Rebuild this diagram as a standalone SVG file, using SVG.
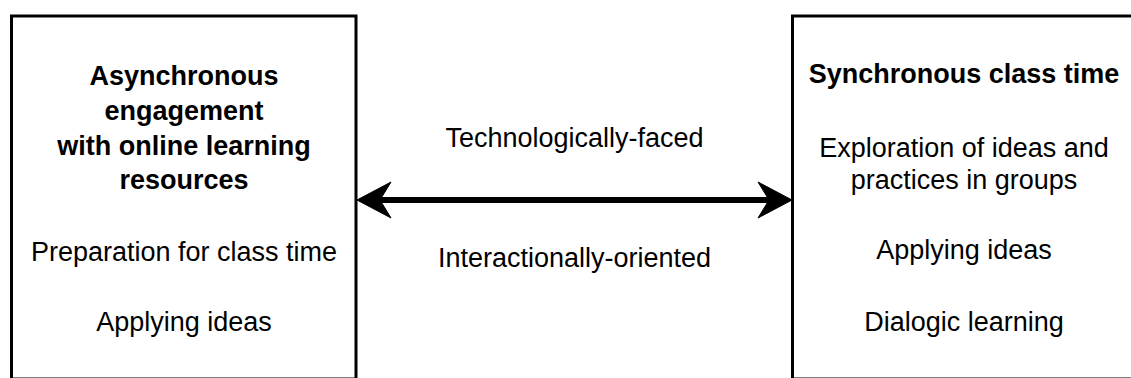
<svg xmlns="http://www.w3.org/2000/svg" width="1131" height="378" viewBox="0 0 1131 378">
  <style>
    .box { fill: #ffffff; stroke: #000000; stroke-width: 3; }
    .txt { font-family: "Liberation Sans", Arial, Helvetica, sans-serif; font-size: 27px; fill: #000000; text-anchor: middle; }
    .bold { font-weight: bold; }
    .link { stroke: #000000; stroke-width: 6; fill: none; }
    .head { fill: #000000; stroke: #000000; stroke-width: 1; stroke-linejoin: miter; }
  </style>
  <rect width="1131" height="378" fill="#ffffff"/>

  <!-- Left node: asynchronous online engagement -->
  <g id="async-node">
    <rect class="box" x="11.5" y="16" width="344.5" height="363"/>
    <text class="txt bold" x="184" y="85">Asynchronous</text>
    <text class="txt bold" x="184" y="120">engagement</text>
    <text class="txt bold" x="184" y="155">with online learning</text>
    <text class="txt bold" x="184" y="189">resources</text>
    <text class="txt" x="184" y="261">Preparation for class time</text>
    <text class="txt" x="184" y="331">Applying ideas</text>
  </g>

  <!-- Right node: synchronous class time -->
  <g id="sync-node">
    <rect class="box" x="792.5" y="16" width="345" height="363"/>
    <text class="txt bold" x="964" y="83">Synchronous class time</text>
    <text class="txt" x="964" y="157">Exploration of ideas and</text>
    <text class="txt" x="964" y="189">practices in groups</text>
    <text class="txt" x="964" y="259">Applying ideas</text>
    <text class="txt" x="964" y="331">Dialogic learning</text>
  </g>

  <!-- Two-way connector with its labels -->
  <g id="connectors">
    <line class="link" x1="378" y1="200" x2="771" y2="200"/>
    <path class="head" d="M357,200 L391,182 L380,200 L391,218 Z"/>
    <path class="head" d="M792,200 L758,182 L769,200 L758,218 Z"/>
    <text class="txt" x="574.5" y="147">Technologically-faced</text>
    <text class="txt" x="574.5" y="267">Interactionally-oriented</text>
  </g>
</svg>
